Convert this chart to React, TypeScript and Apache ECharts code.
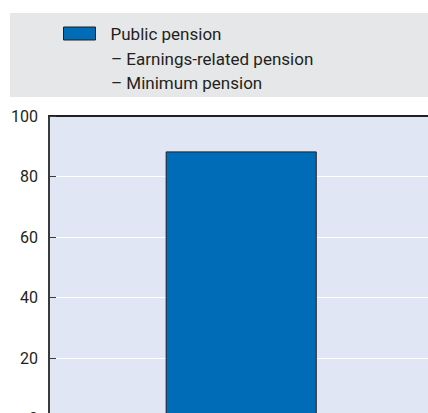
import React, { useEffect, useRef } from "react";
import * as echarts from "echarts";

const categories = ["Public pension"];
const seriesName = "Public pension";
const values = [88.3];
const subLines = ["– Earnings-related pension", "– Minimum pension"];
const yMin = 0;
const yMax = 100;
const yInterval = 20;

const FONT = "Roboto, 'Liberation Sans', Arial, sans-serif";

export default function App() {
  const ref = useRef<HTMLDivElement>(null);
  useEffect(() => {
    if (!ref.current) return;
    const chart = echarts.init(ref.current, undefined, { renderer: "svg" });
    chart.setOption({
      animation: false,
      backgroundColor: "#ffffff",
      textStyle: { fontFamily: FONT },
      graphic: [
        {
          type: "rect",
          z: -1,
          shape: { x: 10, y: 13, width: 440, height: 84 },
          style: { fill: "#e6e7e8" },
        },
        ...subLines.map((t, i) => ({
          type: "text",
          left: 111,
          top: 50 + i * 24,
          style: { text: t, fill: "#231f20", font: `17px ${FONT}` },
        })),
      ],
      legend: {
        left: 63,
        top: 25,
        padding: 0,
        itemWidth: 32,
        itemHeight: 13,
        icon: "rect",
        data: [seriesName],
        itemStyle: { borderColor: "#231f20", borderWidth: 1 },
        textStyle: {
          fontSize: 17,
          color: "#231f20",
          fontFamily: FONT,
          padding: [0, 0, 0, 10],
        },
        selectedMode: false,
      },
      grid: {
        left: 49,
        top: 116,
        right: 6.6,
        bottom: 41.5,
        show: true,
        backgroundColor: "#e1e6f4",
        borderWidth: 0,
      },
      xAxis: {
        type: "category",
        data: categories,
        position: "top",
        axisLine: { show: true, onZero: false, lineStyle: { color: "#231f20", width: 2 } },
        axisTick: { show: false },
        axisLabel: { show: false },
      },
      yAxis: {
        type: "value",
        min: yMin,
        max: yMax,
        interval: yInterval,
        axisLine: { show: true, lineStyle: { color: "#3a3a3a", width: 2 } },
        axisTick: { show: true, inside: true, length: 7, lineStyle: { color: "#3a3a3a", width: 1 } },
        axisLabel: { fontSize: 16, color: "#231f20", margin: 11, fontFamily: FONT },
        splitLine: { show: true, lineStyle: { color: "#ffffff", width: 1 } },
      },
      series: [
        {
          name: seriesName,
          type: "bar",
          data: values,
          barWidth: "39.3%",
          itemStyle: { color: "#006bb6", borderColor: "#231f20", borderWidth: 1 },
        },
      ],
    });
    return () => chart.dispose();
  }, []);
  return (
    <div
      ref={ref}
      style={{ position: "fixed", left: 0, top: 0, width: 440, height: 460 }}
    />
  );
}
